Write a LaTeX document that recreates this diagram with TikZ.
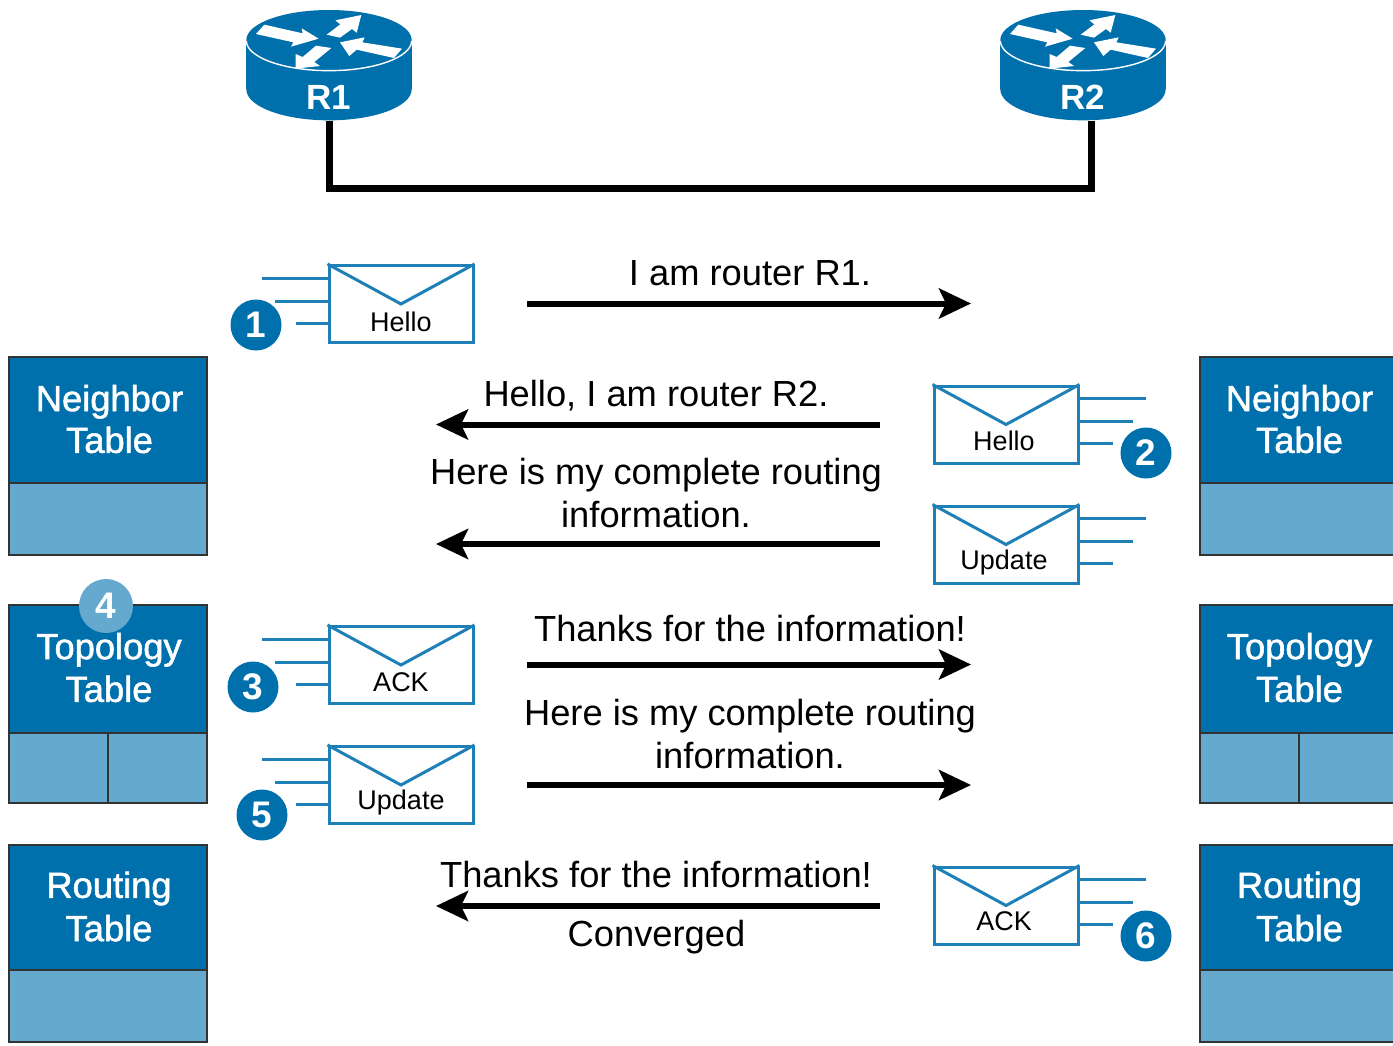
\documentclass[tikz,border=0pt]{standalone}
\usepackage{fontspec}
\setmainfont{Liberation Sans}
\newfontfamily\semifont[FakeBold=1.5]{Liberation Sans}
\usetikzlibrary{arrows.meta}
\definecolor{ciscoblue}{HTML}{0070AD}
\definecolor{ciscolight}{HTML}{66A9CF}
\definecolor{envline}{HTML}{1F80B8}
\definecolor{tableedge}{HTML}{333333}
\newcommand{\fs}[1]{\fontsize{#1}{#1}\selectfont}
\tikzset{
  x=1pt,y=-1pt,
  tablehead/.style={draw=tableedge,line width=2pt,fill=ciscoblue,minimum width=198pt,inner sep=0pt},
  tablelabel/.style={text=white,inner sep=0pt,align=center,font=\semifont\fs{36.3}\linespread{1.15}\selectfont},
  tablecell/.style={draw=tableedge,line width=2pt,fill=ciscolight,inner sep=0pt},
  msg/.style={black,align=center,font=\fs{36.3}\linespread{1.19}\selectfont,inner sep=0pt},
  flow/.style={line width=6pt,-{Stealth[length=32pt,width=30pt,inset=7pt]}},
  envbox/.style={draw=envline,line width=3pt,fill=white,minimum width=144pt,minimum height=77pt,inner sep=0pt},
  envtext/.style={font=\fs{27},inner sep=0pt,black},
  envrule/.style={draw=envline,line width=3pt},
  badge/.style={circle,fill=ciscoblue,text=white,minimum size=51pt,inner sep=0pt,font=\bfseries\fs{37}},
  routertext/.style={text=white,font=\bfseries\fs{35},inner sep=0pt},
  link/.style={line width=7pt,miter limit=10}
}
% #1 x-offset, #2 name, #3 label
\newcommand{\routerdraw}[3]{%
  \begin{scope}[shift={(#1-99,0)},scale=0.33333]
    \fill[ciscoblue] (297,268) ellipse [x radius=248,y radius=93];
    \fill[ciscoblue] (49,120) rectangle (545,268);
    \fill[ciscoblue] (297,120) ellipse [x radius=248,y radius=90];
    \draw[white,line width=1.4pt] (49,122) .. controls (49,172) and (161,212) .. (297,212) .. controls (433,212) and (545,172) .. (545,122);
    \fill[white] (78,102) -- (103,74) -- (218,100) -- (215,85) -- (266,116) -- (183,140) -- (190,127) -- cycle;
    \fill[white] (394,45) -- (316,61) -- (331,73) -- (290,104) -- (330,113) -- (366,87) -- (380,98) -- cycle;
    \fill[white] (330,127) -- (404,112) -- (397,127) -- (516,146) -- (492,174) -- (380,149) -- (358,168) -- cycle;
    \fill[white] (197,206) -- (197,162) -- (218,171) -- (258,137) -- (304,144) -- (253,186) -- (270,198) -- cycle;
  \end{scope}
  \node[minimum width=166pt,minimum height=111pt,inner sep=0pt] (#2) at (#1,65.5) {};
  \node[routertext] (#2label) at (#1,97) {#3};
}
% name, cx, cy, text, text offset
\newcommand{\envleft}[5]{%
  \coordinate (#1a) at (#2-139,#3-26);
  \coordinate (#1b) at (#2-126,#3-3);
  \coordinate (#1c) at (#2-105,#3+19);
  \node[envbox] (#1) at (#2,#3) {};
  \draw[envrule] (#1a) -- (#1.west |- #1a);
  \draw[envrule] (#1b) -- (#1.west |- #1b);
  \draw[envrule] (#1c) -- (#1.west |- #1c);
  \draw[envrule] (#1.north west) -- (#2,#3) -- (#1.north east);
  \node[envtext] (#1t) at (#2,#3+#5) {#4};
}
\newcommand{\envright}[5]{%
  \coordinate (#1a) at (#2+140,#3-26);
  \coordinate (#1b) at (#2+127,#3-3);
  \coordinate (#1c) at (#2+107,#3+19);
  \node[envbox] (#1) at (#2,#3) {};
  \draw[envrule] (#1a) -- (#1.east |- #1a);
  \draw[envrule] (#1b) -- (#1.east |- #1b);
  \draw[envrule] (#1c) -- (#1.east |- #1c);
  \draw[envrule] (#1.north west) -- (#2,#3) -- (#1.north east);
  \node[envtext] (#1t) at (#2-2,#3+#5) {#4};
}
\begin{document}
\begin{tikzpicture}
\useasboundingbox (0,0) rectangle (1393,1045);
\fill[white] (0,0) rectangle (1393,1045);

% routers and link
\routerdraw{329}{R1}{R1}
\routerdraw{1083}{R2}{R2}
\coordinate (linkA) at (329,188);
\coordinate (linkB) at (1091,188);
\coordinate (linkC) at (1091,121);
\draw[link] (R1.south) -- (linkA) -- (linkB) -- (linkC);

% left tables
\node[tablehead,minimum height=126pt] (ln) at (108,420) {};
\node[tablelabel] (lnt) at (109.5,419) {Neighbor\\Table};
\node[tablecell,minimum width=198pt,minimum height=72pt] (lnc) at (108,519) {};
\node[tablehead,minimum height=128pt] (lt) at (108,669) {};
\node[tablelabel] (ltt) at (109,667.5) {Topology\\[1pt]Table};
\node[tablecell,minimum width=99pt,minimum height=70pt] (ltc1) at (58.5,768) {};
\node[tablecell,minimum width=99pt,minimum height=70pt] (ltc2) at (157.5,768) {};
\node[tablehead,minimum height=125pt] (lr) at (108,907.5) {};
\node[tablelabel] (lrt) at (109,906.5) {Routing\\[1.5pt]Table};
\node[tablecell,minimum width=198pt,minimum height=72pt] (lrc) at (108,1006) {};

% right tables
\node[tablehead,minimum height=126pt] (rn) at (1299,420) {};
\node[tablelabel] (rnt) at (1299.5,419) {Neighbor\\Table};
\node[tablecell,minimum width=198pt,minimum height=72pt] (rnc) at (1299,519) {};
\node[tablehead,minimum height=128pt] (rt) at (1299,669) {};
\node[tablelabel] (rtt) at (1299.5,667.5) {Topology\\[1pt]Table};
\node[tablecell,minimum width=99pt,minimum height=70pt] (rtc1) at (1249.5,768) {};
\node[tablecell,minimum width=99pt,minimum height=70pt] (rtc2) at (1348.5,768) {};
\node[tablehead,minimum height=125pt] (rr) at (1299,907.5) {};
\node[tablelabel] (rrt) at (1299.5,906.5) {Routing\\[1.5pt]Table};
\node[tablecell,minimum width=198pt,minimum height=72pt] (rrc) at (1299,1006) {};

% envelopes
\envleft{e1}{401}{304}{Hello}{18}
\envright{e2}{1006}{424.5}{Hello}{16}
\envright{e2u}{1006}{544.5}{Update}{18}
\envleft{e3}{401}{665}{ACK}{17}
\envleft{e5}{401}{785}{Update}{18}
\envright{e6}{1006}{905.5}{ACK}{16}

% badges
\node[badge] (b1) at (256,325) {1};
\node[badge] (b2) at (1146,453) {2};
\node[badge] (b3) at (253,687) {3};
\node[badge,fill=ciscolight,minimum size=54pt] (b4) at (106,606) {4};
\node[badge] (b5) at (262,815) {5};
\node[badge] (b6) at (1146,936) {6};

% flows
\coordinate (f1s) at (527,303.5); \coordinate (f1e) at (971,303.5);
\coordinate (f2s) at (880,424.5); \coordinate (f2e) at (436,424.5);
\coordinate (f3s) at (880,544);   \coordinate (f3e) at (436,544);
\coordinate (f4s) at (527,664.5); \coordinate (f4e) at (971,664.5);
\coordinate (f5s) at (527,785);   \coordinate (f5e) at (971,785);
\coordinate (f6s) at (880,906);   \coordinate (f6e) at (436,906);
\draw[flow] (f1s) -- (f1e);
\draw[flow] (f2s) -- (f2e);
\draw[flow] (f3s) -- (f3e);
\draw[flow] (f4s) -- (f4e);
\draw[flow] (f5s) -- (f5e);
\draw[flow] (f6s) -- (f6e);

% messages
\node[msg] (m1) at (750,273) {I am router R1.};
\node[msg] (m2) at (656,395.5) {Hello, I am router R2.};
\node[msg] (m3) at (656,493) {Here is my complete routing\\information.};
\node[msg] (m4) at (750,628.5) {Thanks for the information!};
\node[msg] (m5) at (750,734) {Here is my complete routing\\information.};
\node[msg] (m6) at (656,874.5) {Thanks for the information!};
\node[msg] (m7) at (656.5,937) {Converged};
\end{tikzpicture}
\end{document}
